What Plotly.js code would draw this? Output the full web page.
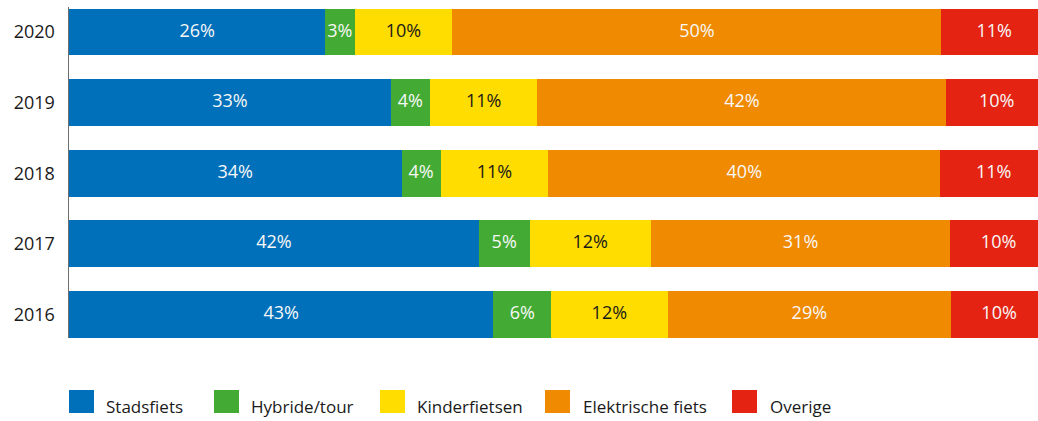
<!DOCTYPE html>
<html>
<head>
<meta charset="utf-8">
<script src="https://cdn.plot.ly/plotly-3.0.1.min.js"></script>
<style>html,body{margin:0;padding:0;background:#fff;}#chart{width:1038px;height:421px;}</style>
</head>
<body>
<div id="chart"></div>
<script>
// Data
const years = ["2016", "2017", "2018", "2019", "2020"];
const seriesNames = ["Stadsfiets", "Hybride/tour", "Kinderfietsen", "Elektrische fiets", "Overige"];
const stadsfiets = [43.4, 41.9, 34.0, 32.9, 26.2];
const hybride    = [5.9, 5.2, 4.0, 4.0, 3.0];
const kinder     = [11.9, 12.4, 11.0, 11.0, 10.0];
const elektrisch = [29.0, 30.6, 40.1, 41.8, 50.0];
const overige    = [9.8, 9.9, 10.9, 10.3, 10.8];

const seriesValues = [stadsfiets, hybride, kinder, elektrisch, overige];
const colors = ["#0070BA", "#43AB34", "#FFDD00", "#F08A00", "#E42313"];
const textColors = ["#F7F7F7", "#F7F7F7", "#1A1A1A", "#F7F7F7", "#F7F7F7"];

const FONT = "Open Sans, Noto Sans, sans-serif";

const traces = [];
seriesNames.forEach((name, i) => {
  traces.push({
    type: "bar",
    orientation: "h",
    name: name,
    y: years,
    x: seriesValues[i],
    marker: {color: colors[i], line: {width: 0}},
    textposition: "none",
    hoverinfo: "skip",
    showlegend: false
  });
});
// Labels centred in each segment, positioned from the cumulative data
seriesNames.forEach((name, i) => {
  const mids = years.map((_, k) => {
    let base = 0;
    for (let j = 0; j < i; j++) base += seriesValues[j][k];
    return base + seriesValues[i][k] / 2;
  });
  traces.push({
    type: "scatter",
    mode: "text",
    y: years,
    x: mids,
    text: seriesValues[i].map(v => Math.round(v) + "%"),
    textposition: "middle center",
    textfont: {family: FONT, size: 18, color: textColors[i]},
    hoverinfo: "skip",
    showlegend: false,
    cliponaxis: false
  });
});

// Plot area geometry (pixels)
const L = 69, R = 1038, T = 7, B = 338;
const W = R - L, H = B - T;
const px2x = p => (p - L) / W;
const py2y = p => (B - p) / H;

const legendSquares = [69, 214, 380, 545, 732];
const legendTexts = [104, 249, 415, 581, 768];

const shapes = [];
const annotations = [];
seriesNames.forEach((name, i) => {
  shapes.push({
    type: "rect", xref: "paper", yref: "paper",
    x0: px2x(legendSquares[i]), x1: px2x(legendSquares[i] + 25),
    y0: py2y(413), y1: py2y(390),
    fillcolor: colors[i], line: {width: 0}
  });
  annotations.push({
    xref: "paper", yref: "paper",
    x: px2x(legendTexts[i]), y: py2y(406),
    xanchor: "left", yanchor: "middle",
    text: name, showarrow: false,
    font: {family: FONT, size: 17, color: "#1A1A1A"}
  });
});

const layout = {
  width: 1038, height: 421,
  margin: {l: L, r: 0, t: T, b: 421 - B, pad: 0},
  paper_bgcolor: "#FFFFFF", plot_bgcolor: "#FFFFFF",
  barmode: "stack",
  bargap: 0.335,
  xaxis: {
    range: [0, 99.08], showgrid: false, zeroline: false,
    showticklabels: false, showline: false, fixedrange: true
  },
  yaxis: {
    type: "category", categoryorder: "array", categoryarray: years,
    range: [-0.333, 4.354],
    showgrid: false, zeroline: false,
    showline: true, linecolor: "#6E6E6E", linewidth: 1.5,
    ticks: "outside", ticklen: 9, tickcolor: "rgba(0,0,0,0)",
    tickfont: {family: FONT, size: 18, color: "#1A1A1A"},
    fixedrange: true
  },
  shapes: shapes,
  annotations: annotations,
  showlegend: false
};

Plotly.newPlot("chart", traces, layout, {displayModeBar: false, staticPlot: true});
</script>
</body>
</html>
